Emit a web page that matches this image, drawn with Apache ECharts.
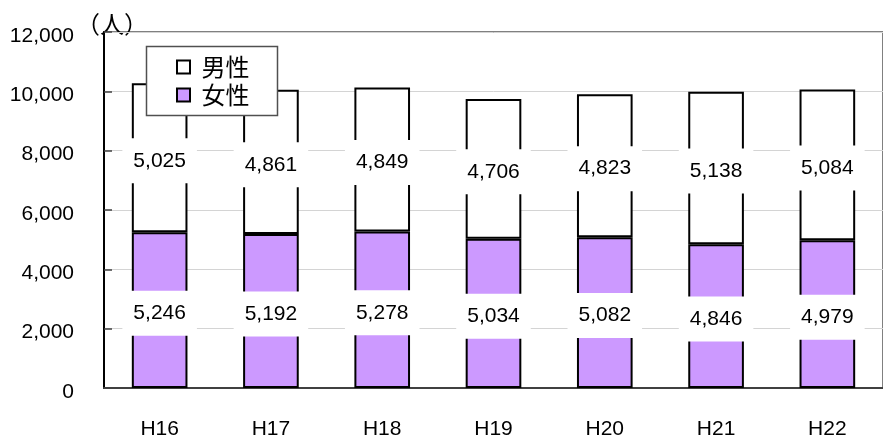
<!DOCTYPE html>
<html>
<head>
<meta charset="utf-8">
<script src="https://cdn.jsdelivr.net/npm/echarts@6/dist/echarts.min.js"></script>
<style>
  html, body { margin: 0; padding: 0; background: #fff; }
  #chart { width: 883px; height: 440px; }
</style>
</head>
<body>
<div id="chart"></div>
<script>
// Population by sex, fiscal years H16–H22
const years = ['H16', 'H17', 'H18', 'H19', 'H20', 'H21', 'H22'];
const female = [5246, 5192, 5278, 5034, 5082, 4846, 4979];
const male = [5025, 4861, 4849, 4706, 4823, 5138, 5084];
const yTicks = { min: 0, max: 12000, interval: 2000 };

const numFont = 'Liberation Sans, Arial, sans-serif';
const cjkFont = 'Noto Sans CJK JP, sans-serif';
const fmt = v => v.toLocaleString('en-US');

const valueLabel = {
  show: true,
  position: 'inside',
  offset: [0, 3],
  color: '#000',
  fontFamily: numFont,
  fontSize: 21,
  backgroundColor: '#fff',
  padding: [12, 11, 12, 11],
  formatter: p => fmt(p.value)
};

const chart = echarts.init(document.getElementById('chart'), null, { renderer: 'canvas' });
chart.setOption({
  animation: false,
  backgroundColor: '#fff',
  grid: {
    left: 104, right: -11, top: 32, bottom: 50,
    show: true, borderColor: '#808080', borderWidth: 2, backgroundColor: 'transparent'
  },
  graphic: [
    {
      type: 'text', x: 76, y: 24,
      style: { text: '（人）', font: '24px ' + cjkFont, fill: '#000', verticalAlign: 'middle' }
    },
    {
      // legend frame
      type: 'rect', z: 3,
      shape: { x: 146.5, y: 46.5, width: 131, height: 69 },
      style: { fill: '#fff', stroke: '#505050', lineWidth: 1.5 }
    }
  ],
  legend: {
    data: ['男性', '女性'],
    orient: 'vertical',
    left: 146, top: 46,
    padding: [9, 26, 8, 30],
    itemGap: 4,
    itemWidth: 20, itemHeight: 13,
    icon: 'path://M0,0H13V13H0Z',
    textStyle: { fontFamily: cjkFont, fontSize: 24, color: '#000', padding: [0, 0, 0, 3] }
  },
  xAxis: {
    type: 'category',
    data: years,
    axisLine: { lineStyle: { color: '#404040', width: 2 } },
    axisTick: { inside: true, length: 8, lineStyle: { color: '#000', width: 1.5 } },
    axisLabel: { color: '#000', fontFamily: numFont, fontSize: 21, margin: 31 }
  },
  yAxis: {
    type: 'value',
    min: yTicks.min, max: yTicks.max, interval: yTicks.interval,
    axisLine: { show: true, lineStyle: { color: '#000', width: 2 } },
    axisTick: { show: true, inside: true, length: 8, lineStyle: { color: '#404040', width: 1.5 } },
    splitLine: { lineStyle: { color: '#d4d4d4', width: 1 } },
    axisLabel: {
      color: '#000', margin: 30,
      // empty spacer line above the number nudges it a few px below the tick
      formatter: v => '{s|}\n{n|' + fmt(v) + '}',
      rich: {
        s: { height: 8, lineHeight: 8 },
        n: { fontFamily: numFont, fontSize: 21, lineHeight: 24, color: '#000' }
      }
    }
  },
  series: [
    {
      name: '女性', type: 'bar', stack: 'total', barWidth: '50%',
      data: female,
      itemStyle: { color: '#CC99FF', borderColor: '#000', borderWidth: 2 },
      label: valueLabel
    },
    {
      name: '男性', type: 'bar', stack: 'total', barWidth: '50%',
      data: male,
      itemStyle: { color: '#fff', borderColor: '#000', borderWidth: 2 },
      label: valueLabel
    }
  ]
});
</script>
</body>
</html>
